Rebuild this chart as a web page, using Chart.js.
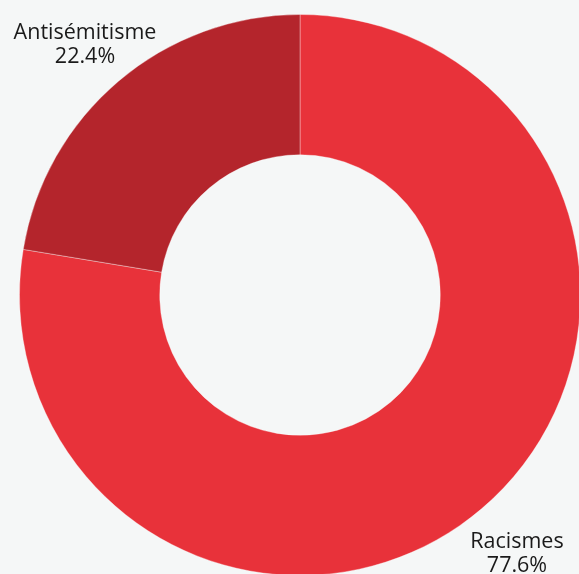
<!DOCTYPE html>
<html>
<head>
<meta charset="utf-8">
<script src="https://cdn.jsdelivr.net/npm/chart.js@4/dist/chart.umd.min.js"></script>
<style>
html,body{margin:0;padding:0;background:#f5f7f7;overflow:hidden;width:579px;height:574px;}
#wrap{position:absolute;left:0;top:0;width:600px;height:600px;}
</style>
</head>
<body>
<div id="wrap"><canvas id="c" width="600" height="600"></canvas></div>
<script>
const categories = ["Racismes", "Antisémitisme"];
const values = [77.6, 22.4];
const valueLabels = ["77.6%", "22.4%"];
const colors = ["#e8323a", "#b4252c"];

const labelPlugin = {
  id: 'outerLabels',
  afterDatasetsDraw(chart) {
    const ctx = chart.ctx;
    const meta = chart.getDatasetMeta(0);
    ctx.save();
    ctx.font = '21.5px "Open Sans"';
    ctx.fillStyle = '#1a1a1a';
    ctx.textAlign = 'center';
    ctx.textBaseline = 'middle';
    meta.data.forEach((arc, i) => {
      const mid = (arc.startAngle + arc.endAngle) / 2;
      const r = arc.outerRadius * 1.19;
      const x = arc.x + Math.cos(mid) * r + 1;
      const y = arc.y + Math.sin(mid) * r + 4;
      ctx.fillText(categories[i], x, y - 12);
      ctx.fillText(valueLabels[i], x, y + 12);
    });
    ctx.restore();
  }
};

new Chart(document.getElementById('c'), {
  type: 'doughnut',
  data: {
    labels: categories,
    datasets: [{
      data: values,
      backgroundColor: colors,
      borderColor: 'rgba(255,255,255,0.35)',
      borderWidth: 1
    }]
  },
  options: {
    responsive: false,
    animation: false,
    cutout: '50%',
    layout: { padding: { left: 19, right: 19, top: 14, bottom: 24 } },
    plugins: { legend: { display: false }, tooltip: { enabled: false } }
  },
  plugins: [labelPlugin]
});
</script>
</body>
</html>
